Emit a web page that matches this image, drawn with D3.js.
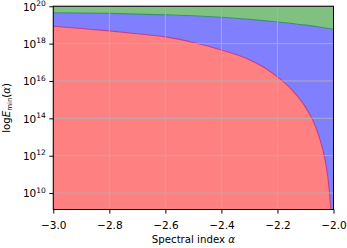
<!DOCTYPE html>
<html lang="en">
<head>
    <meta charset="utf-8" />
    <title>E_min vs spectral index</title>
    <script src="https://d3js.org/d3.v7.min.js"></script>
    <style>
        body { margin: 0; background: #fff; }
        text { font-family: "DejaVu Sans", sans-serif; fill: #000; }
    </style>
</head>
<body>
    <div id="chart"></div>
    <script>
        // spectral index samples and log10(E)
        const alphaRed = [-3.0, -2.9, -2.8, -2.7, -2.6, -2.5, -2.4, -2.3, -2.25, -2.2, -2.15, -2.1, -2.08, -2.064, -2.05, -2.036, -2.025, -2.015, -2.009];
        const logRed = [18.93, 18.81, 18.68, 18.53, 18.36, 18.06, 17.66, 17.14, 16.75, 16.22, 15.55, 14.6, 14.08, 13.55, 12.95, 12.2, 11.35, 10.15, 9.0];
        const alphaGreen = [-3.0, -2.8, -2.6, -2.5, -2.4, -2.3, -2.2, -2.1, -2.05, -2.0];
        const logGreen = [19.65, 19.62, 19.54, 19.49, 19.41, 19.30, 19.16, 18.99, 18.89, 18.77];
        const xTicks = [-3.0, -2.8, -2.6, -2.4, -2.2, -2.0];
        const yTickExps = [10, 12, 14, 16, 18, 20];

        const W = 347, H = 248;
        const margin = { top: 6.25, right: 13.5, bottom: 38.5, left: 53.3 };
        const width = W - margin.left - margin.right;
        const height = H - margin.top - margin.bottom;

        const svg = d3.select("#chart").append("svg")
            .attr("width", W)
            .attr("height", H);

        const g = svg.append("g")
            .attr("transform", `translate(${margin.left},${margin.top})`);

        const x = d3.scaleLinear().domain([-3.0, -2.0]).range([0, width]);
        const y = d3.scaleLog().domain([Math.pow(10, 9.12), 1e20]).range([height, 0]);

        const red = alphaRed.map((a, i) => ({ a: a, v: Math.pow(10, logRed[i]) }));
        const green = alphaGreen.map((a, i) => ({ a: a, v: Math.pow(10, logGreen[i]) }));

        g.append("defs").append("clipPath").attr("id", "clip")
            .append("rect").attr("width", width).attr("height", height);

        const plot = g.append("g").attr("clip-path", "url(#clip)");

        // blue region fills everything between the two curves
        plot.append("rect")
            .attr("width", width).attr("height", height)
            .attr("fill", "#8080ff");

        // green region: from green curve up to top
        const greenArea = d3.area()
            .curve(d3.curveMonotoneX)
            .x(d => x(d.a))
            .y0(0)
            .y1(d => y(d.v));
        plot.append("path").datum(green)
            .attr("d", greenArea)
            .attr("fill", "#80c080");

        // red region: below red curve
        const redArea = d3.area()
            .x(d => x(d.a))
            .y0(height)
            .y1(d => y(d.v))
            .curve(d3.curveMonotoneX);
        plot.append("path").datum(red)
            .attr("d", redArea)
            .attr("fill", "#ff8080");

        // boundary lines
        const line = d3.line().curve(d3.curveMonotoneX).x(d => x(d.a)).y(d => y(d.v));
        plot.append("path").datum(green)
            .attr("d", line)
            .attr("fill", "none")
            .attr("stroke", "#3f8f7f")
            .attr("stroke-width", 1.1);
        plot.append("path").datum(red)
            .attr("d", line)
            .attr("fill", "none")
            .attr("stroke", "#c0408f")
            .attr("stroke-width", 1.1);

        // grid on top of the fills
        g.append("g").selectAll("line")
            .data(xTicks)
            .enter().append("line")
            .attr("x1", d => x(d)).attr("x2", d => x(d))
            .attr("y1", 0).attr("y2", height)
            .attr("stroke", "#b0b0b0").attr("stroke-width", 0.9);
        g.append("g").selectAll("line")
            .data(yTickExps)
            .enter().append("line")
            .attr("x1", 0).attr("x2", width)
            .attr("y1", d => y(Math.pow(10, d))).attr("y2", d => y(Math.pow(10, d)))
            .attr("stroke", "#b0b0b0").attr("stroke-width", 0.9);

        // frame
        g.append("rect")
            .attr("width", width).attr("height", height)
            .attr("fill", "none")
            .attr("stroke", "#000")
            .attr("stroke-width", 1);

        // x axis
        const xAxis = g.append("g")
            .attr("transform", `translate(0,${height})`)
            .call(d3.axisBottom(x).tickValues(xTicks).tickSize(4).tickPadding(8)
                .tickFormat(d => d3.format(".1f")(d).replace("-", "\u2212")));
        xAxis.select(".domain").remove();
        xAxis.selectAll("text").style("font-size", "10.5px");

        // y axis with 10^n labels
        const yAxis = g.append("g")
            .call(d3.axisLeft(y).tickValues(yTickExps.map(e => Math.pow(10, e))).tickSize(4).tickFormat(""));
        yAxis.select(".domain").remove();
        yAxis.selectAll(".tick").append("text")
            .attr("x", -7.5)
            .attr("dy", "0.36em")
            .attr("text-anchor", "end")
            .style("font-size", "10.5px")
            .each(function (d) {
                const t = d3.select(this);
                t.append("tspan").text("10");
                t.append("tspan")
                    .attr("dy", "-4.5")
                    .style("font-size", "7.5px")
                    .text(Math.round(Math.log10(d)));
            });

        // axis labels
        const xl = svg.append("text")
            .attr("x", margin.left + width / 2)
            .attr("y", 242.5)
            .attr("text-anchor", "middle")
            .style("font-size", "10.2px");
        xl.append("tspan").text("Spectral index ");
        xl.append("tspan").style("font-style", "italic").text("\u03b1");

        const yl = svg.append("text")
            .attr("transform", `translate(9.5,${margin.top + height / 2}) rotate(-90)`)
            .attr("text-anchor", "middle")
            .style("font-size", "10.2px");
        yl.append("tspan").text("log");
        yl.append("tspan").style("font-style", "italic").text("E");
        yl.append("tspan").attr("dy", "2.5").style("font-size", "7px").text("min");
        yl.append("tspan").attr("dy", "-2.5").text("(");
        yl.append("tspan").style("font-style", "italic").text("\u03b1");
        yl.append("tspan").text(")");
    </script>
</body>
</html>
